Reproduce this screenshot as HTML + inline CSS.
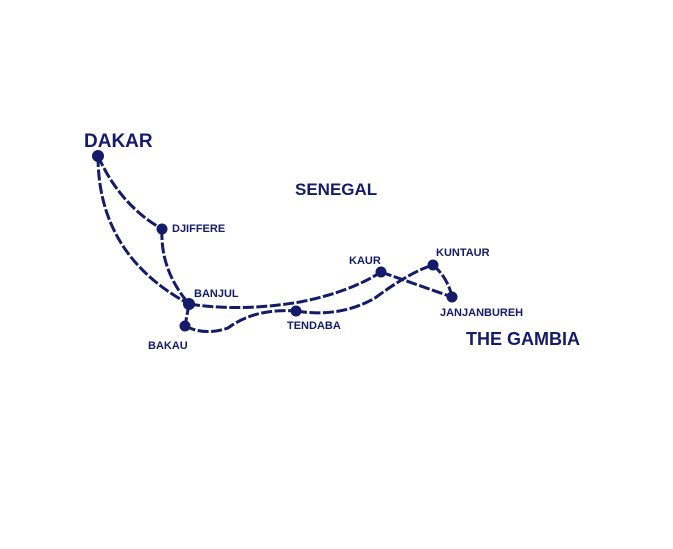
<!DOCTYPE html>
<html><head><style>
body{margin:0;background:#fff;width:673px;height:544px;overflow:hidden}
text{font-family:"Liberation Sans",Arial,sans-serif;font-weight:bold;fill:#141b6b}
</style></head><body>
<svg width="673" height="544" viewBox="0 0 673 544">
<g fill="none" stroke="#141b6b" stroke-width="3" stroke-dasharray="11 2.5" stroke-linecap="butt">
<path d="M98,156 Q120,205 162,229"/>
<path d="M162,229 Q160,270 189,304"/>
<path d="M98,156 Q98,255 189,304"/>
<path d="M189,304 Q240,312 300,302 Q350,292 381,272"/>
<path d="M381,272 L452,297"/>
<path d="M189,304 L185,326"/>
<path d="M185,326 Q205,336 228,328 Q255,308 296,311"/>
<path d="M296,311 Q340,318 375,298 Q410,272 433,265"/>
<path d="M433,265 Q448,278 452,297"/>
</g>
<g fill="#141b6b">
<circle cx="98" cy="156" r="6"/>
<circle cx="162" cy="229" r="5.5"/>
<circle cx="189" cy="304" r="6"/>
<circle cx="185" cy="326" r="5.5"/>
<circle cx="296" cy="311" r="5.5"/>
<circle cx="381" cy="272" r="5.5"/>
<circle cx="433" cy="265" r="5.5"/>
<circle cx="452" cy="297" r="5.5"/>
</g>
<text x="84" y="147" font-size="19">DAKAR</text>
<text x="295" y="195" font-size="17">SENEGAL</text>
<text x="466" y="345" font-size="18">THE GAMBIA</text>
<g font-size="11">
<text x="172" y="232">DJIFFERE</text>
<text x="194" y="297">BANJUL</text>
<text x="148" y="349">BAKAU</text>
<text x="287" y="329">TENDABA</text>
<text x="349" y="264">KAUR</text>
<text x="436" y="256">KUNTAUR</text>
<text x="440" y="316">JANJANBUREH</text>
</g>
</svg>
</body></html>
